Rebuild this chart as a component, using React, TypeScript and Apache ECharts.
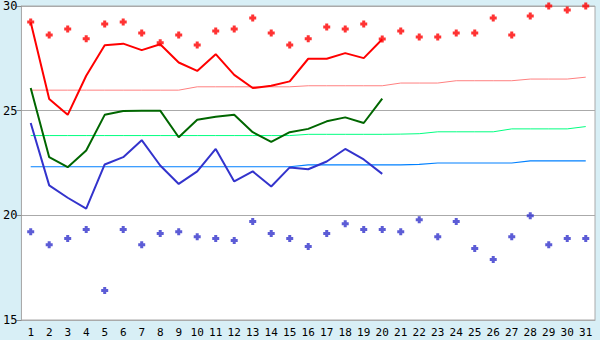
import React, { useEffect, useRef } from "react";
import * as echarts from "echarts";

const days = Array.from({ length: 31 }, (_, i) => String(i + 1));

const highMarks = [29.24, 28.62, 28.9, 28.43, 29.14, 29.24, 28.71, 28.24, 28.62, 28.14, 28.81, 28.9, 29.43, 28.71, 28.14, 28.43, 29.0, 28.9, 29.14, 28.42, 28.81, 28.52, 28.52, 28.71, 28.71, 29.43, 28.62, 29.52, 30.0, 29.81, 30.0];
const lowMarks = [19.22, 18.6, 18.89, 19.32, 16.41, 19.32, 18.6, 19.13, 19.22, 18.98, 18.89, 18.8, 19.7, 19.13, 18.89, 18.51, 19.13, 19.6, 19.32, 19.32, 19.22, 19.79, 18.98, 19.7, 18.41, 17.89, 18.98, 19.98, 18.6, 18.89, 18.89];

const highLine = [29.22, 25.56, 24.8, 26.67, 28.13, 28.2, 27.89, 28.17, 27.3, 26.9, 27.7, 26.71, 26.08, 26.19, 26.4, 27.48, 27.48, 27.75, 27.51, 28.41];
const meanLine = [26.08, 22.78, 22.3, 23.1, 24.8, 24.98, 25.0, 25.0, 23.73, 24.57, 24.71, 24.8, 23.97, 23.51, 23.97, 24.13, 24.49, 24.68, 24.41, 25.58];
const lowLine = [24.41, 21.43, 20.84, 20.32, 22.43, 22.78, 23.59, 22.38, 21.5, 22.1, 23.17, 21.62, 22.1, 21.38, 22.29, 22.2, 22.57, 23.17, 22.67, 21.98];

const highNormal = [25.98, 25.98, 25.98, 25.98, 25.98, 25.98, 25.98, 25.98, 25.98, 26.14, 26.14, 26.14, 26.14, 26.14, 26.14, 26.19, 26.19, 26.19, 26.19, 26.19, 26.32, 26.32, 26.32, 26.43, 26.43, 26.43, 26.43, 26.51, 26.51, 26.51, 26.6];
const meanNormal = [23.81, 23.81, 23.81, 23.81, 23.81, 23.81, 23.81, 23.81, 23.81, 23.81, 23.81, 23.81, 23.81, 23.81, 23.81, 23.87, 23.87, 23.87, 23.87, 23.87, 23.88, 23.9, 23.99, 23.99, 23.99, 23.99, 24.13, 24.13, 24.13, 24.13, 24.24];
const lowNormal = [22.32, 22.32, 22.32, 22.32, 22.32, 22.32, 22.32, 22.32, 22.32, 22.32, 22.32, 22.32, 22.32, 22.32, 22.32, 22.41, 22.41, 22.41, 22.41, 22.41, 22.41, 22.43, 22.5, 22.5, 22.5, 22.5, 22.5, 22.6, 22.6, 22.6, 22.6];

const plus = "path://M2,0H5V2H7V5H5V7H2V5H0V2H2Z";

export default function App() {
  const ref = useRef<HTMLDivElement>(null);
  useEffect(() => {
    if (!ref.current) return;
    const chart = echarts.init(ref.current, null, { renderer: "svg" });
    const lineBase = (data: number[], color: string, width: number, z: number) => ({
      type: "line",
      data,
      symbol: "none",
      z,
      lineStyle: { color, width },
      itemStyle: { color },
    });
    chart.setOption({
      animation: false,
      backgroundColor: "#d8eff6",
      textStyle: { fontFamily: "DejaVu Sans Mono" },
      grid: {
        left: 20,
        right: 5,
        top: 5,
        bottom: 20,
        show: true,
        backgroundColor: "#ffffff",
        borderColor: "#aaaaaa",
        borderWidth: 1,
      },
      xAxis: {
        type: "category",
        data: days,
        boundaryGap: true,
        axisLine: { lineStyle: { color: "#aaaaaa" } },
        axisTick: { alignWithLabel: true, length: 6, lineStyle: { color: "#888888" } },
        axisLabel: { color: "#000", fontSize: 11, margin: 7, interval: 0, fontFamily: "DejaVu Sans Mono" },
      },
      yAxis: {
        type: "value",
        min: 15,
        max: 30,
        interval: 5,
        axisLine: { show: true, lineStyle: { color: "#aaaaaa" } },
        axisTick: { show: true, length: 5, lineStyle: { color: "#888888" } },
        axisLabel: { color: "#000", fontSize: 12, margin: 4, fontFamily: "DejaVu Sans Mono" },
        splitLine: { show: true, lineStyle: { color: "#aaaaaa", width: 1 } },
      },
      series: [
        lineBase(highNormal, "#ff8080", 1, 1),
        lineBase(meanNormal, "#00ff80", 1, 1),
        lineBase(lowNormal, "#0080ff", 1.2, 1),
        lineBase(highLine, "#ff0000", 2, 2),
        lineBase(meanLine, "#006600", 2, 2),
        lineBase(lowLine, "#3333cc", 2, 2),
        {
          type: "scatter",
          data: highMarks,
          symbol: plus,
          symbolSize: 7,
          z: 3,
          itemStyle: { color: "#ff0000" },
        },
        {
          type: "scatter",
          data: lowMarks,
          symbol: plus,
          symbolSize: 7,
          z: 3,
          itemStyle: { color: "#3333cc" },
        },
      ],
    });
    return () => chart.dispose();
  }, []);
  return (
    <div
      ref={ref}
      style={{ position: "fixed", left: 0, top: 0, width: 600, height: 340 }}
    />
  );
}
